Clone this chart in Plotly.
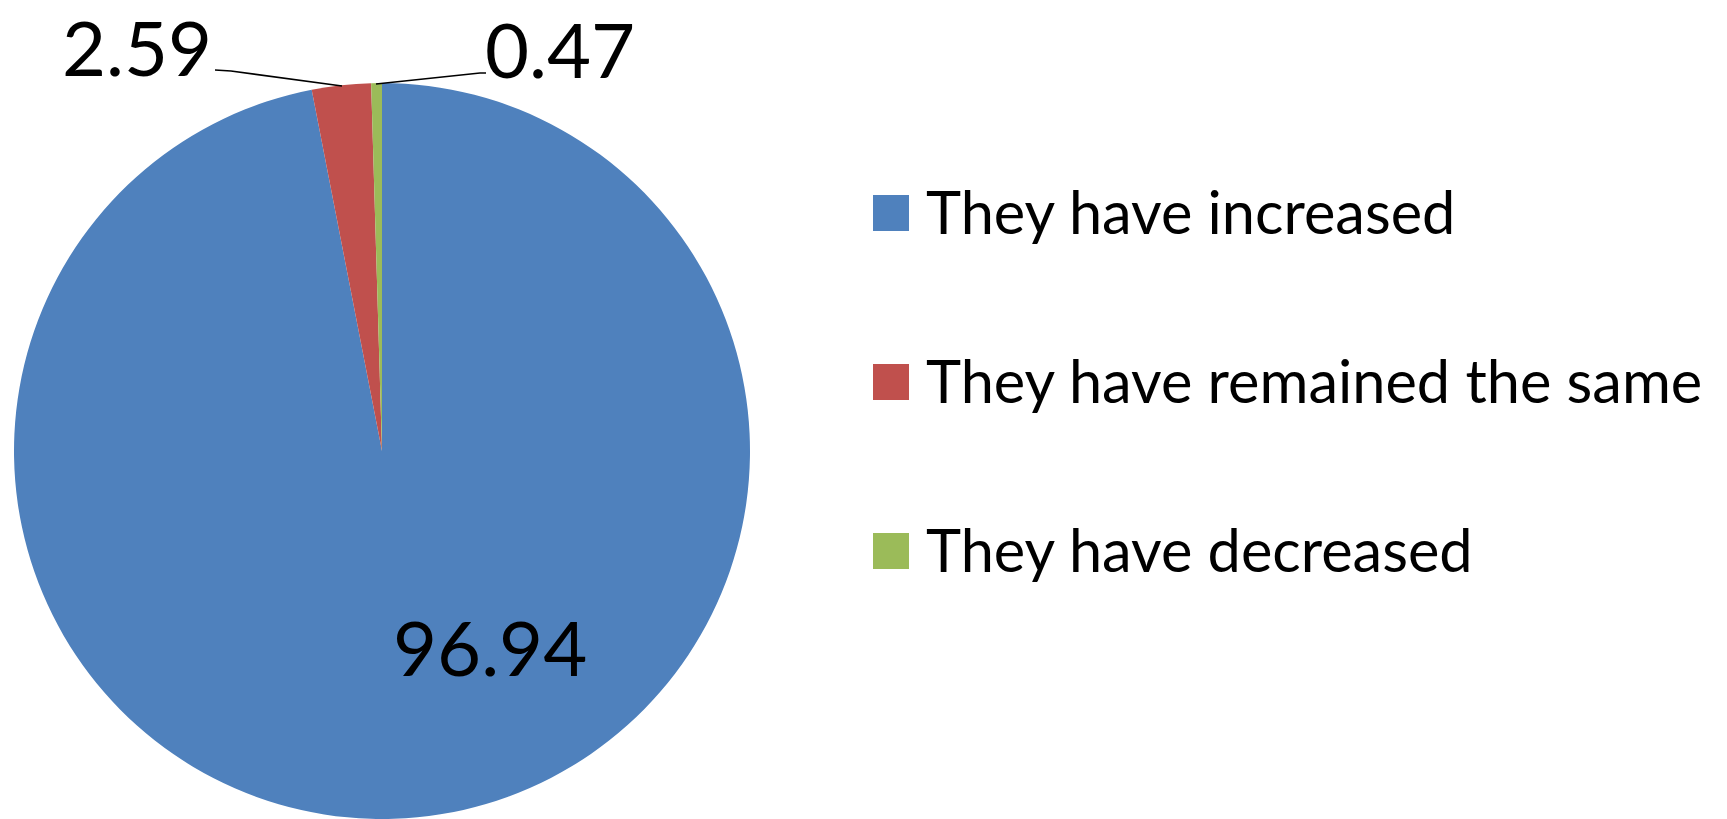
import plotly.graph_objects as go

# Survey answers and their shares (%)
categories = ["They have increased", "They have remained the same", "They have decreased"]
shares = [96.94, 2.59, 0.47]
colors = ["#4F81BD", "#C0504D", "#9BBB59"]

W, H = 1727, 819
FONT = "Lato"

fig = go.Figure()

# Pie: clockwise from 12 o'clock, centre (382, 451), radius 368 px
cx, cy, r = 382, 451, 368
fig.add_trace(go.Pie(
    labels=categories,
    values=shares,
    sort=False,
    direction="clockwise",
    rotation=0,
    marker=dict(colors=colors, line=dict(width=0)),
    textinfo="none",
    hoverinfo="label+value",
    showlegend=False,
    domain=dict(x=[(cx - r) / W, (cx + r) / W], y=[(H - cy - r) / H, (H - cy + r) / H]),
))

# Invisible pixel-space axes for labels, leader lines and the legend
fig.update_xaxes(range=[0, W], visible=False, fixedrange=True)
fig.update_yaxes(range=[H, 0], visible=False, fixedrange=True)

label_font = dict(family=FONT, size=76, color="black")

# Value labels
label_specs = [
    dict(x=490, y=646, xanchor="center"),   # increased (inside)
    dict(x=214, y=46, xanchor="right"),     # remained the same
    dict(x=483, y=48, xanchor="left"),      # decreased
]
for val, spec in zip(shares, label_specs):
    fig.add_annotation(x=spec["x"], y=spec["y"], xref="x", yref="y",
                       text=f"{val:.2f}", showarrow=False,
                       xanchor=spec["xanchor"], yanchor="middle",
                       font=label_font)

# Leader lines for the two thin slices
fig.add_shape(type="path", xref="x", yref="y",
              path="M215,70 L231,71 L342,86",
              line=dict(color="black", width=1.6))
fig.add_shape(type="path", xref="x", yref="y",
              path="M376,84 L480,73 L486,73",
              line=dict(color="black", width=1.6))

# Legend: coloured squares with text
leg_x0, sq = 873, 36
row_centres = [213, 382, 551]
for name, col, yc in zip(categories, colors, row_centres):
    fig.add_shape(type="rect", xref="x", yref="y",
                  x0=leg_x0, x1=leg_x0 + sq, y0=yc - sq / 2, y1=yc + sq / 2,
                  fillcolor=col, line=dict(width=0))
    fig.add_annotation(x=leg_x0 + 51, y=yc - 2, xref="x", yref="y",
                       text=name, showarrow=False,
                       xanchor="left", yanchor="middle",
                       font=dict(family=FONT, size=59.5, color="black"))

fig.update_layout(
    width=W, height=H,
    margin=dict(l=0, r=0, t=0, b=0),
    paper_bgcolor="white",
    plot_bgcolor="white",
)

fig.write_html("out.html")
